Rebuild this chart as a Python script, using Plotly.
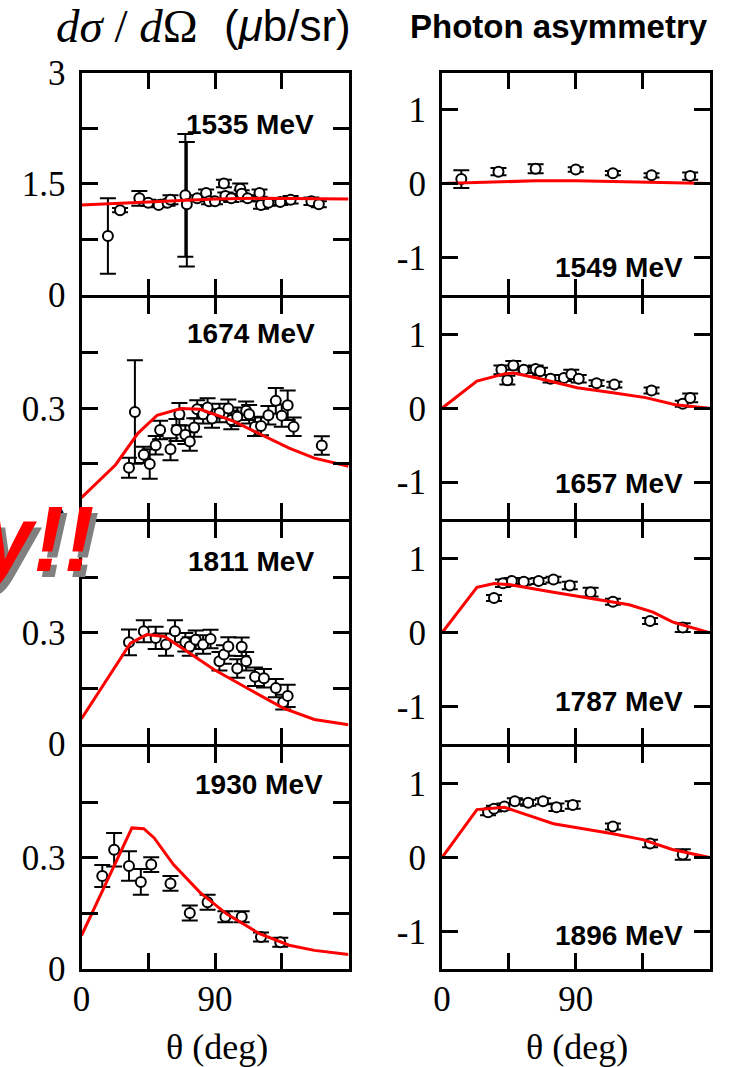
import plotly.graph_objects as go

W, H = 733, 1067

# ---------------- data ----------------
energies_left = ["1535 MeV", "1674 MeV", "1811 MeV", "1930 MeV"]
energies_right = ["1549 MeV", "1657 MeV", "1787 MeV", "1896 MeV"]

# differential cross section data (deg, ub/sr, err)
l1_th = [17.8, 26, 39, 45, 52, 58, 60, 70, 71, 78, 84, 86, 90, 96, 97, 101, 107, 108, 112, 120, 121, 126, 134, 141, 155, 160]
l1_y = [0.79, 1.14, 1.30, 1.24, 1.21, 1.24, 1.28, 1.34, 1.22, 1.30, 1.37, 1.26, 1.26, 1.50, 1.33, 1.30, 1.43, 1.36, 1.30, 1.37, 1.21, 1.24, 1.25, 1.28, 1.26, 1.22]
l1_e = [0.51, 0.03, 0.10, 0.04, 0.03, 0.04, 0.06, 0.83, 0.84, 0.04, 0.05, 0.04, 0.04, 0.05, 0.05, 0.05, 0.07, 0.05, 0.04, 0.05, 0.05, 0.04, 0.04, 0.05, 0.05, 0.04]

l2_th = [32, 36, 42, 46, 50, 53, 60, 64, 66, 70, 73, 76, 78, 82, 85, 88, 93, 99, 101, 105, 111, 113, 117, 121, 126, 131, 135, 139, 143, 162]
l2_y = [0.139, 0.29, 0.174, 0.149, 0.20, 0.241, 0.189, 0.241, 0.284, 0.228, 0.21, 0.248, 0.297, 0.284, 0.302, 0.272, 0.287, 0.299, 0.268, 0.277, 0.293, 0.284, 0.25, 0.252, 0.281, 0.32, 0.28, 0.308, 0.25, 0.199]
l2_e = [0.027, 0.14, 0.022, 0.04, 0.025, 0.025, 0.03, 0.03, 0.03, 0.025, 0.025, 0.025, 0.025, 0.025, 0.025, 0.025, 0.025, 0.025, 0.025, 0.025, 0.025, 0.025, 0.025, 0.025, 0.025, 0.035, 0.03, 0.04, 0.025, 0.025]

l3_th = [32, 42, 50, 57, 63, 70, 73, 77, 82, 87, 93, 96, 99, 105, 108, 111, 117, 123, 131, 136, 139]
l3_y = [0.274, 0.304, 0.286, 0.268, 0.304, 0.274, 0.263, 0.281, 0.268, 0.283, 0.223, 0.241, 0.263, 0.203, 0.262, 0.223, 0.181, 0.177, 0.15, 0.112, 0.129]
l3_e = [0.035, 0.03, 0.03, 0.03, 0.03, 0.025, 0.025, 0.025, 0.025, 0.025, 0.025, 0.025, 0.025, 0.025, 0.025, 0.025, 0.025, 0.025, 0.025, 0.02, 0.03]

l4_th = [14, 22, 32, 40, 47, 60, 73, 85, 97, 108, 121, 134]
l4_y = [0.25, 0.321, 0.277, 0.234, 0.281, 0.23, 0.15, 0.179, 0.14, 0.14, 0.085, 0.071]
l4_e = [0.03, 0.045, 0.04, 0.035, 0.02, 0.02, 0.02, 0.02, 0.015, 0.015, 0.012, 0.012]

# photon asymmetry data
r1_th = [13, 38, 63, 90, 115, 141, 167]
r1_y = [0.06, 0.16, 0.20, 0.19, 0.14, 0.11, 0.10]
r1_e = [0.12, 0.05, 0.06, 0.03, 0.03, 0.03, 0.05]

r2_th = [40, 44, 48, 55, 63, 66, 73, 82, 87, 92, 104, 116, 141, 162, 167]
r2_y = [0.52, 0.38, 0.58, 0.52, 0.53, 0.50, 0.40, 0.41, 0.46, 0.40, 0.34, 0.32, 0.24, 0.06, 0.14]
r2_e = [0.06, 0.06, 0.06, 0.04, 0.05, 0.05, 0.05, 0.04, 0.06, 0.05, 0.04, 0.04, 0.04, 0.04, 0.06]

r3_th = [35, 41, 47, 55, 65, 75, 86, 100, 115, 140, 162]
r3_y = [0.47, 0.67, 0.70, 0.69, 0.70, 0.72, 0.64, 0.55, 0.42, 0.16, 0.07]
r3_e = [0.04, 0.05, 0.04, 0.04, 0.04, 0.04, 0.05, 0.06, 0.04, 0.04, 0.06]

r4_th = [31, 35, 42, 49, 58, 68, 77, 88, 115, 140, 162]
r4_y = [0.61, 0.66, 0.69, 0.76, 0.74, 0.76, 0.68, 0.71, 0.42, 0.19, 0.04]
r4_e = [0.04, 0.04, 0.04, 0.04, 0.04, 0.04, 0.05, 0.05, 0.04, 0.05, 0.07]

# model curves
cl1_th = [0, 30, 60, 90, 120, 150, 180]
cl1_y = [1.21, 1.24, 1.27, 1.29, 1.30, 1.30, 1.29]
cl2_th = [0, 23, 38, 51, 67, 80, 102, 124, 140, 157, 180]
cl2_y = [0.058, 0.147, 0.232, 0.281, 0.299, 0.297, 0.266, 0.223, 0.192, 0.165, 0.143]
cl3_th = [0, 33, 44, 56, 71, 89, 113, 136, 157, 180]
cl3_y = [0.067, 0.272, 0.295, 0.29, 0.25, 0.201, 0.147, 0.096, 0.065, 0.051]
cl4_th = [0, 34, 42, 49, 62, 80, 98, 120, 140, 157, 180]
cl4_y = [0.089, 0.38, 0.378, 0.353, 0.281, 0.205, 0.147, 0.094, 0.063, 0.049, 0.038]

cr1_th = [0, 30, 63, 90, 120, 150, 180]
cr1_y = [0, 0.02, 0.036, 0.036, 0.025, 0.01, 0]
cr2_th = [0, 23.5, 42, 48, 64, 91, 115, 137, 157, 180]
cr2_y = [0, 0.367, 0.465, 0.478, 0.41, 0.278, 0.211, 0.144, 0.047, 0]
cr3_th = [0, 23.5, 35, 46, 75, 108, 126, 142, 155, 180]
cr3_y = [0, 0.615, 0.668, 0.65, 0.548, 0.445, 0.379, 0.28, 0.147, 0]
cr4_th = [0, 23.5, 42, 52, 75, 91, 115, 135, 155, 180]
cr4_y = [0, 0.647, 0.678, 0.611, 0.456, 0.402, 0.322, 0.242, 0.109, 0]

left_data = [(l1_th, l1_y, l1_e), (l2_th, l2_y, l2_e), (l3_th, l3_y, l3_e), (l4_th, l4_y, l4_e)]
right_data = [(r1_th, r1_y, r1_e), (r2_th, r2_y, r2_e), (r3_th, r3_y, r3_e), (r4_th, r4_y, r4_e)]
left_curves = [(cl1_th, cl1_y), (cl2_th, cl2_y), (cl3_th, cl3_y), (cl4_th, cl4_y)]
right_curves = [(cr1_th, cr1_y), (cr2_th, cr2_y), (cr3_th, cr3_y), (cr4_th, cr4_y)]

x_ticks = [0, 45, 90, 135, 180]
x_ticktext = ["0", "", "90", "", ""]
y_left_ranges = [[0, 3], [0, 0.6], [0, 0.6], [0, 0.6]]
y_left_ticks = [[0, 0.75, 1.5, 2.25, 3], [0, 0.15, 0.3, 0.45, 0.6], [0, 0.15, 0.3, 0.45, 0.6], [0, 0.15, 0.3, 0.45, 0.6]]
y_left_text = [["0", "", "1.5", "", "3"], ["0", "", "0.3", "", ""], ["0", "", "0.3", "", ""], ["0", "", "0.3", "", ""]]
y_right_ticks = [-1, 0, 1]
y_right_text = ["-1", "0", "1"]

# ---------------- layout geometry (pixels) ----------------
def px(x):
    return x / W

def py(y):
    return 1 - y / H

LW = 3
col_x = [(81.5, 348.5), (442, 709.5)]
# axis lines are drawn just outside each domain, so adjacent rows leave a LW gap
row_y = [(72.5, 294.5), (297.5, 519), (522, 743.5), (746.5, 968.5)]

fig = go.Figure()
layout = dict(width=W, height=H, margin=dict(l=0, r=0, t=0, b=0, autoexpand=False),
              plot_bgcolor="white", paper_bgcolor="white", showlegend=False)

TICKFONT = dict(family="Liberation Serif", size=35, color="black")

def axis_common():
    return dict(showline=True, linecolor="black", linewidth=LW, mirror="allticks",
                ticks="inside", ticklen=16, tickwidth=3, tickcolor="black",
                showgrid=False, zeroline=False, tickfont=TICKFONT, automargin=False)

idx = 0
for c in range(2):
    for r in range(4):
        idx += 1
        xa = "xaxis" if idx == 1 else f"xaxis{idx}"
        ya = "yaxis" if idx == 1 else f"yaxis{idx}"
        xr = "x" if idx == 1 else f"x{idx}"
        yr = "y" if idx == 1 else f"y{idx}"
        xd = axis_common()
        xd.update(domain=[px(col_x[c][0]), px(col_x[c][1])], range=[0, 180],
                  anchor=yr, tickmode="array", tickvals=x_ticks, ticktext=x_ticktext,
                  showticklabels=(r == 3), ticklabelstandoff=-3)
        yd = axis_common()
        yd.update(domain=[py(row_y[r][1]), py(row_y[r][0])], anchor=xr, tickmode="array",
                  ticklabelstandoff=6)
        if c == 0:
            yd.update(range=y_left_ranges[r], tickvals=y_left_ticks[r], ticktext=y_left_text[r])
            th, yy, ee = left_data[r]
            cth, cy = left_curves[r]
        else:
            yd.update(range=[-1.5, 1.5], tickvals=y_right_ticks, ticktext=y_right_text)
            th, yy, ee = right_data[r]
            cth, cy = right_curves[r]
        layout[xa] = xd
        layout[ya] = yd
        fig.add_trace(go.Scatter(x=th, y=yy, mode="markers", xaxis=xr, yaxis=yr,
                                 marker=dict(symbol="circle", size=10, color="white",
                                             line=dict(color="black", width=2)),
                                 error_y=dict(type="data", array=ee, visible=True,
                                              color="black", thickness=2, width=8)))
        fig.add_trace(go.Scatter(x=cth, y=cy, mode="lines", xaxis=xr, yaxis=yr,
                                 line=dict(color="#ff0000", width=3)))

annotations = []
label_pos_left = [(250, 124), (251, 334), (251, 561), (259, 784)]
label_pos_right = [(619, 267), (619, 484), (619, 701), (619, 935)]
for i in range(4):
    for (lx, ly), txt in [(label_pos_left[i], energies_left[i]), (label_pos_right[i], energies_right[i])]:
        annotations.append(dict(xref="paper", yref="paper", x=px(lx), y=py(ly), text=f"<b>{txt}</b>",
                                showarrow=False, xanchor="center", yanchor="middle",
                                font=dict(family="Liberation Sans", size=28, color="black")))

# titles
annotations.append(dict(xref="paper", yref="paper", x=px(54), y=py(26), text="<i>dσ</i> / <i>d</i>Ω",
                        showarrow=False, xanchor="left", yanchor="middle",
                        font=dict(family="Liberation Serif", size=47, color="black")))
annotations.append(dict(xref="paper", yref="paper", x=px(222), y=py(26), text="(<i>μ</i>b/sr)",
                        showarrow=False, xanchor="left", yanchor="middle",
                        font=dict(family="Liberation Sans", size=44, color="black")))
annotations.append(dict(xref="paper", yref="paper", x=px(559), y=py(27), text="<b>Photon asymmetry</b>",
                        showarrow=False, xanchor="center", yanchor="middle",
                        font=dict(family="Liberation Sans", size=33, color="black")))
for cx in (217, 577):
    annotations.append(dict(xref="paper", yref="paper", x=px(cx), y=py(1047), text="θ (deg)",
                            showarrow=False, xanchor="center", yanchor="middle",
                            font=dict(family="Liberation Serif", size=36, color="black")))

# red stamp text with gray shadow (partly cut off at the left edge)
annotations.append(dict(xref="paper", yref="paper", x=px(101), y=py(545), text="<b><i>y!!</i></b>",
                        showarrow=False, xanchor="right", yanchor="middle",
                        font=dict(family="Liberation Sans", size=92, color="#808080")))
annotations.append(dict(xref="paper", yref="paper", x=px(96), y=py(539), text="<b><i>y!!</i></b>",
                        showarrow=False, xanchor="right", yanchor="middle",
                        font=dict(family="Liberation Sans", size=92, color="#ff0000")))

layout["annotations"] = annotations
fig.update_layout(**layout)
fig.write_html("out.html")
